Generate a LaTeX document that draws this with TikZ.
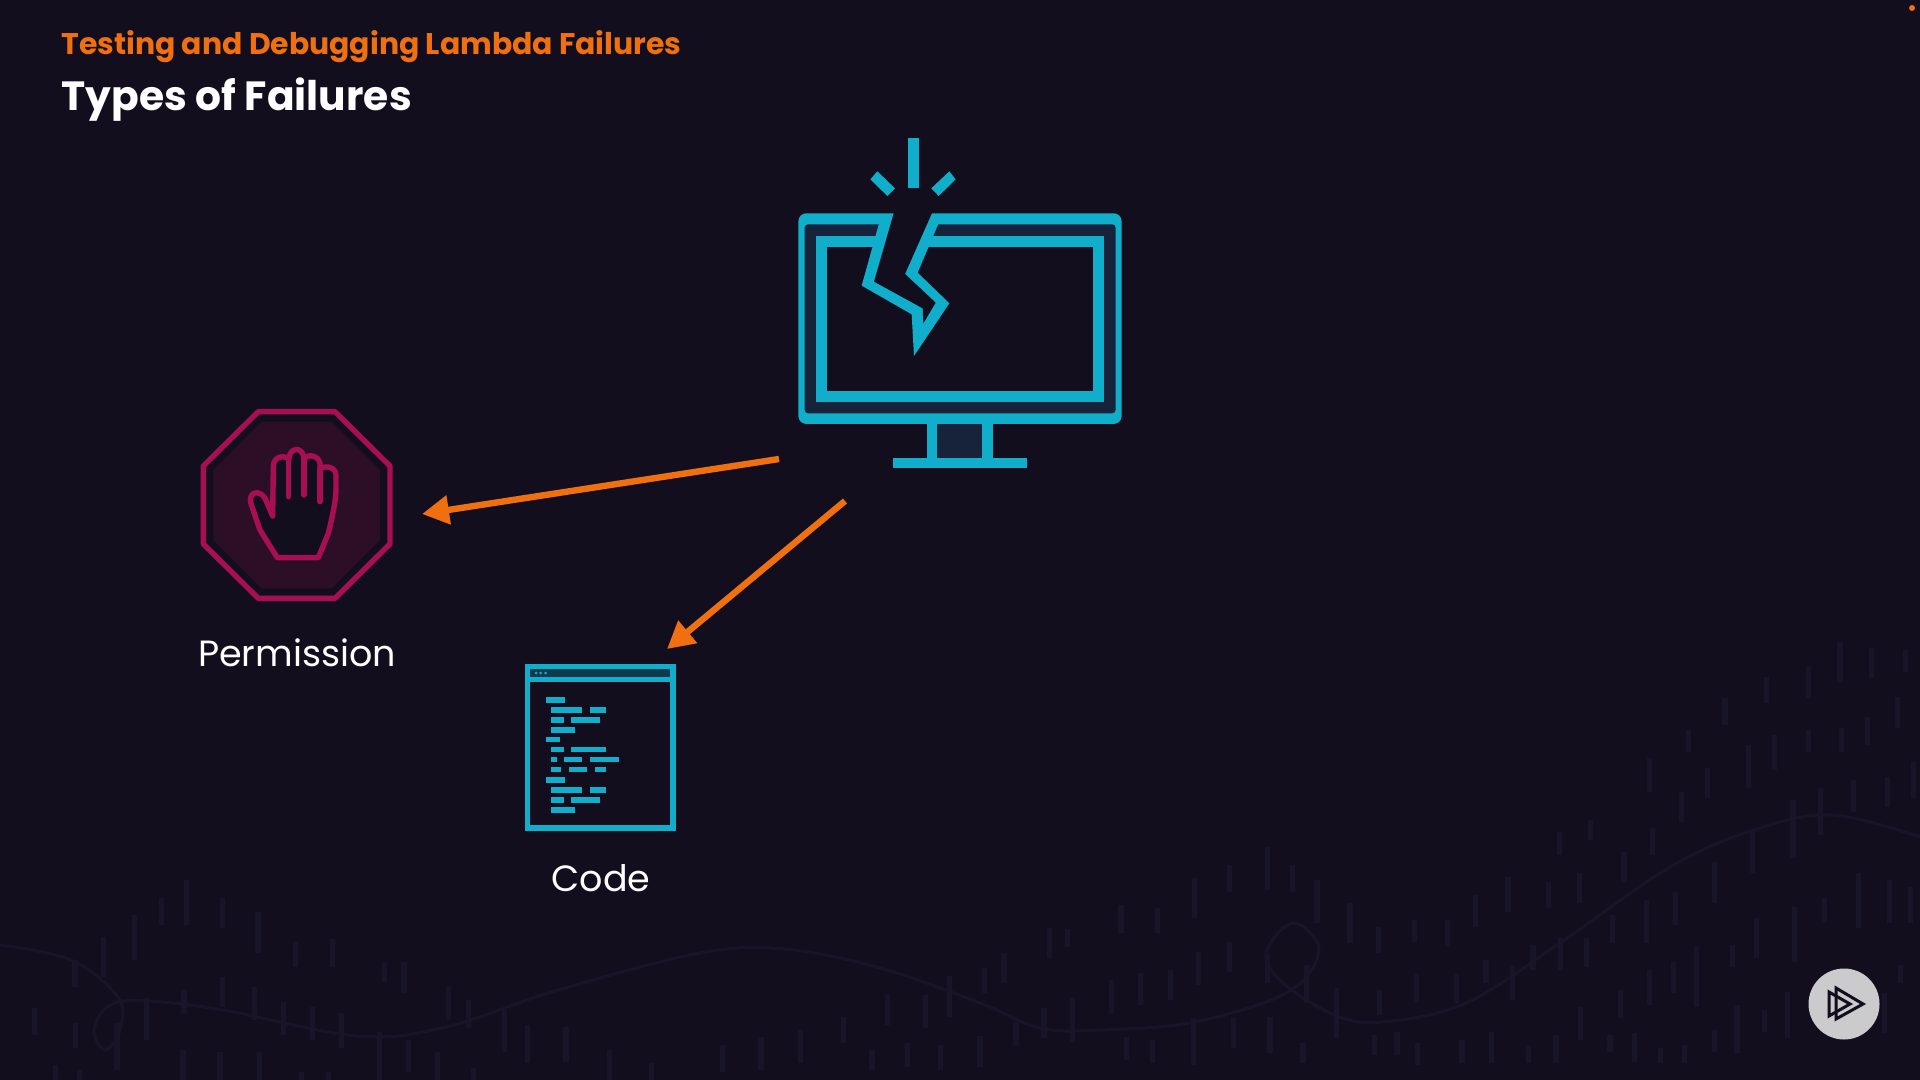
\documentclass[tikz,border=0pt]{standalone}
\usepackage{fontspec}
\setmainfont{Poppins}
\usetikzlibrary{arrows.meta,positioning}
\definecolor{slidebg}{HTML}{120E1D}
\definecolor{faint}{HTML}{181529}
\definecolor{iconcyan}{HTML}{10AECB}
\definecolor{icondark}{HTML}{16233B}
\definecolor{barfill}{HTML}{0E3A4E}
\definecolor{stopred}{HTML}{A80F52}
\definecolor{stopfill}{HTML}{2C0F26}
\definecolor{accent}{HTML}{F0700F}
\tikzset{
  headtext/.style={anchor=base west,inner sep=0pt,font=\fontsize{14.95}{17}\selectfont\bfseries,text=accent},
  maintext/.style={anchor=base west,inner sep=0pt,font=\fontsize{20.4}{24}\selectfont\bfseries,text=white},
  labeltext/.style={anchor=base,inner sep=0pt,font=\fontsize{18.25}{21}\selectfont,text=white},
  failarrow/.style={accent,line width=3.2pt,-{Triangle[length=13.5pt,width=14pt]}},
  handline/.style={stopred,line width=2.7pt,line join=round,line cap=round},
  dashline/.style={faint,line width=2.6pt}
}
\begin{document}
\begin{tikzpicture}[x=0.5pt,y=-0.5pt]
        \useasboundingbox (0,0) rectangle (1920,1080);
        \fill[slidebg] (0,0) rectangle (1920,1080);
        % background marks
        \begin{scope}[shift={(1100,620)},xscale=0.523,yscale=0.3333]
          \foreach \dx/\dya/\dyb in {1415/65/185,1475/85/175,1540/90/155,1355/140/235,1275/170/250,1195/235/315,1525/230/325,1125/330/395,1290/345/450,1240/375/505,1355/330/395,1418/325/395,1467/290/375,1050/415/515,1162/445/535,1440/480/575,1505/470/560,1555/425/535,1112/515/605,1378/505/645,1325/540/715,938/600/660,878/635/705,1057/625/705,1248/635/760,1002/695/785,320/680/810,248/735/815,368/735/815,180/775/895,415/780/910,780/770/875,857/785/865,917/760/850,718/825/920,40/855/940,110/865/940,478/850/970,1045/840/970,1100/815/915,1175/725/850,1450/760/925,1510/780/910,1550/800/910,1385/835/910,980/885/970,1255/895/1015,1328/860/1025,602/900/965,665/900/980,532/920/1000,248/965/1055,188/995/1095,880/955/1050,930/955/1040,828/975/1050,1210/975/1040,1140/980/1160,738/1020/1090,788/1035/1140,1097/1025/1120,1530/1035/1090,135/1050/1140,78/1060/1155,22/1080/1180,605/1060/1150,682/1060/1150,1050/1050/1155,395/1035/1150,320/1000/1090,452/1105/1255,535/1110/1185,995/1110/1195,918/1160/1260,1218/1155/1300,1315/1115/1255,1270/1170/1235,1500/1120/1240,1175/1230/1295,178/1195/1335,255/1195/1285,325/1190/1300,50/1250/1320,100/1260/1330,388/1270/1330,525/1245/1305,568/1235/1305,607/1270/1335,692/1260/1330,748/1235/1330,820/1275/1330,872/1245/1330,975/1245/1295,1022/1240/1325,1072/1285/1330,1118/1275/1330}
            \draw[dashline] (\dx,\dya)--(\dx,\dyb);
        \end{scope}
        \begin{scope}[shift={(0,850)},xscale=0.4464,yscale=0.3333]
          \foreach \dx/\dya/\dyb in {418/90/225,362/145/225,302/195/330,232/260/380,498/145/235,578/185/310,662/275/350,745/268/350,168/330/410,862/340/395,905/335/430,498/380/470,570/410/510,412/420/490,1005/410/510,1050/450/535,78/475/555,328/445/570,635/455/555,700/470/570,765/490/595,170/520/595,262/520/660,1130/480/605,1182/525/640,1268/530/635,850/545/690,915/570/665,980/605/690,1365/600/690,410/600/690,493/605/690,582/605/690,1460/640/690,125/645/690,178/660/690,1060/655/690,675/665/690,735/665/690}
            \draw[dashline] (\dx,\dya)--(\dx,\dyb);
        \end{scope}
        \begin{scope}[shift={(700,850)},scale=0.3333]
          \foreach \dx/\dya/\dyb in {1048/235/325,1103/238/290,912/310/400,853/355/430,748/378/500,563/435/525,677/435/535,1118/445/575,1032/475/565,948/515/585,430/500/580,302/540/640,183/560/660,68/585/665,516/600/660,622/578/650,722/585/660,840/558/650}
            \draw[dashline] (\dx,\dya)--(\dx,\dyb);
        \end{scope}
        \draw[faint,line width=1.5pt] plot[smooth,tension=0.6] coordinates {(0,945) (71,960) (118,997) (120,1030) (105,1050) (94,1030) (110,1005) (147,1001) (223,1010) (357,1036) (446,1027) (558,990) (700,953) (784,949) (880,968) (980,1003) (1040,1028) (1100,1030) (1194,1022) (1288,992) (1319,950) (1293,923) (1266,953) (1283,983) (1335,1015) (1382,1022) (1466,1003) (1560,943) (1670,867) (1754,830) (1832,815) (1920,837)};
        % texts
        \node[headtext] (subtitle) at (61,55) {Testing and Debugging Lambda Failures};
        \node[maintext] (title) at (61,111) {Types of Failures};
        \node[labeltext] (permission) at (297,666) {Permission};
        \node[labeltext] (code) at (601,891) {Code};
        % monitor
        \begin{scope}[shift={(770,120)},scale=0.3333]
          \fill[iconcyan] (413,55) rectangle (447,205);
          \fill[iconcyan] (301,178)--(322,154)--(375,205)--(352,228)--cycle;
          \fill[iconcyan] (484,205)--(538,154)--(557,178)--(506,228)--cycle;
          \fill[iconcyan,rounded corners=4pt] (85,280) rectangle (1055,912);
          \fill[icondark,rounded corners=1.7pt] (104,313) rectangle (1037,880);
          \fill[iconcyan] (137,347) rectangle (1002,845);
          \fill[slidebg] (170,380) rectangle (970,812);
          \fill[iconcyan] (470,905) rectangle (668,1015);
          \fill[icondark] (502,912) rectangle (637,1013);
          \fill[iconcyan] (370,1013) rectangle (770,1045);
          \fill[iconcyan] (330,300)--(275,497)--(425,583)--(432,708)--(538,550)--(443,458)--(510,300)--cycle;
          \fill[slidebg] (372,277)--(312,485)--(458,565)--(460,610)--(497,548)--(405,462)--(487,277)--cycle;
        \end{scope}
        % stop sign
        \begin{scope}[shift={(180,390)},scale=0.3333]
          \fill[stopfill] (245,95)--(455,95)--(600,240)--(600,450)--(455,595)--(245,595)--(100,450)--(100,240)--cycle;
          \draw[stopred,line width=2.7pt,line join=round] (235,65)--(465,65)--(630,228)--(630,462)--(465,625)--(235,625)--(70,462)--(70,228)--cycle;
          \fill[slidebg] (292,503)--(415,503)--(445,430) .. controls (455,390) and (468,330) .. (468,300)--(468,255) .. controls (468,226) and (422,226) .. (420,240)--(420,220) .. controls (415,192) and (375,192) .. (372,210) .. controls (372,168) and (328,168) .. (326,210) .. controls (320,195) and (280,195) .. (280,230)--(278,378)--(255,325) .. controls (240,298) and (205,305) .. (212,338)--(240,420)--cycle;
          \draw[handline] (292,503)--(415,503)--(445,430) .. controls (455,390) and (468,330) .. (468,300)--(468,255) .. controls (468,226) and (422,226) .. (420,240)--(420,220) .. controls (415,192) and (375,192) .. (372,210) .. controls (372,168) and (328,168) .. (326,210) .. controls (320,195) and (280,195) .. (280,230)--(278,378)--(255,325) .. controls (240,298) and (205,305) .. (212,338)--(240,420)--cycle;
          \draw[handline] (420,240)--(420,335);
          \draw[handline] (372,210)--(372,315);
          \draw[handline] (326,210)--(326,320);
        \end{scope}
        % code window
        \begin{scope}[shift={(510,650)},scale=0.3333]
          \draw[iconcyan,line width=2.8pt] (53,50) rectangle (489,534);
          \fill[iconcyan] (53,50) rectangle (489,97);
          \fill[barfill] (61,58) rectangle (481,80);
          \foreach \bx in {78,92,107}
            \fill[iconcyan] (\bx,69) circle (4.5);
          \foreach \xa/\xb/\ly in {107/166/150,124/216/180,240/288/180,124/161/210,184/270/210,124/194/240,107/151/269,124/161/299,184/288/299,124/142/329,162/216/329,239/326/329,124/154/358,177/232/358,254/287/358,107/166/390,124/216/420,240/288/420,124/161/450,184/270/450,124/194/480}
            \fill[iconcyan] (\xa,\ly-8) rectangle (\xb,\ly+8);
        \end{scope}
        % play button
        \fill[white!78!slidebg] (1844,1004) circle (35.5);
        \draw[slidebg,line width=1.5pt,line join=miter] (1836,988)--(1863,1004)--(1836,1019)--cycle;
        \draw[slidebg,line width=1.5pt,line join=miter] (1829,992)--(1850,1004)--(1829,1016)--cycle;
        \fill[accent] (1912,8) circle (3);
        % arrows
        \coordinate (monitorleft) at (779,459);
        \coordinate (monitorlow) at (845,501);
        \coordinate (permissionin) at (422,514);
        \coordinate (codein) at (667,649);
        \draw[failarrow] (monitorleft)--(permissionin);
        \draw[failarrow] (monitorlow)--(codein);
      \end{tikzpicture}
\end{document}
